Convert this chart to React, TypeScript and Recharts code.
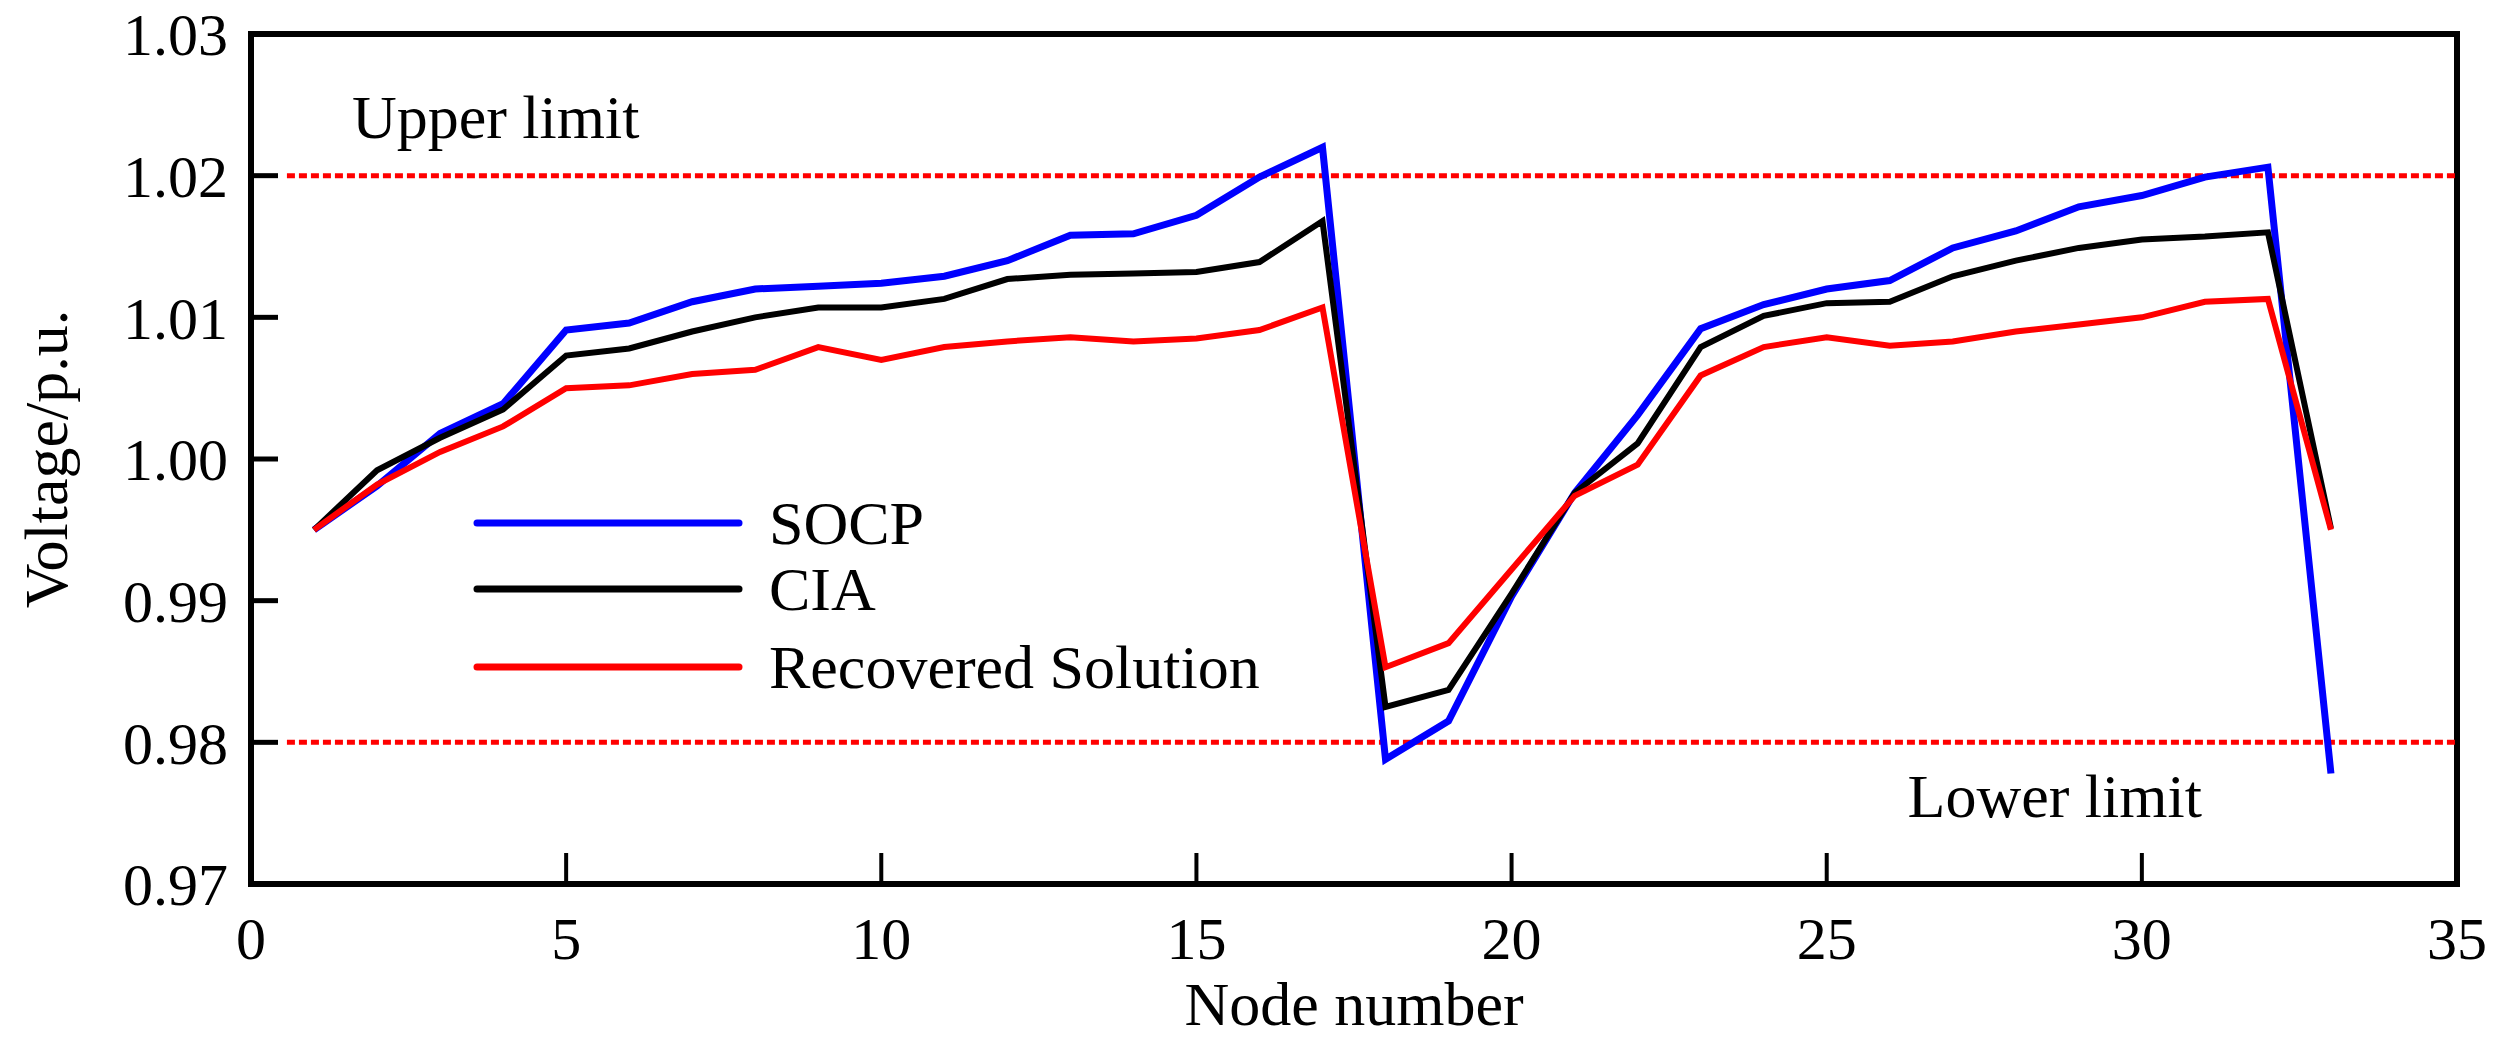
import React from "react";
import {
  Legend,
  Line,
  LineChart,
  ReferenceArea,
  ReferenceLine,
  XAxis,
  YAxis,
} from "recharts";

/* ─────────────  Data  ───────────── */

const NODES = [
  1, 2, 3, 4, 5, 6, 7, 8, 9, 10, 11, 12, 13, 14, 15, 16, 17,
  18, 19, 20, 21, 22, 23, 24, 25, 26, 27, 28, 29, 30, 31, 32, 33,
];

const SOCP = [
  0.995, 0.9981, 1.0018, 1.0039, 1.0091, 1.0096, 1.0111, 1.012, 1.0122, 1.0124, 1.0129,
  1.014, 1.0158, 1.0159, 1.0172, 1.0199, 1.022, 0.9788, 0.9815, 0.9903, 0.9976, 1.0031,
  1.0092, 1.0109, 1.012, 1.0126, 1.0149, 1.0161, 1.0178, 1.0186, 1.0199, 1.0206, 0.9778,
];

const CIA = [
  0.995, 0.9992, 1.0015, 1.0035, 1.0073, 1.0078, 1.009, 1.01, 1.0107, 1.0107, 1.0113,
  1.0127, 1.013, 1.0131, 1.0132, 1.0139, 1.0168, 0.9825, 0.9837, 0.9905, 0.9976, 1.0011,
  1.0079, 1.0101, 1.011, 1.0111, 1.0129, 1.014, 1.0149, 1.0155, 1.0157, 1.016, 0.9951,
];

const RECOVERED = [
  0.995, 0.9982, 1.0005, 1.0023, 1.005, 1.0052, 1.006, 1.0063, 1.0079, 1.007, 1.0079,
  1.0083, 1.0086, 1.0083, 1.0085, 1.0091, 1.0107, 0.9853, 0.987, 0.9922, 0.9974, 0.9996,
  1.0059, 1.0079, 1.0086, 1.008, 1.0083, 1.009, 1.0095, 1.01, 1.0111, 1.0113, 0.995,
];

const X_TICKS = [0, 5, 10, 15, 20, 25, 30, 35];
const Y_TICKS = [0.97, 0.98, 0.99, 1.0, 1.01, 1.02, 1.03];

const UPPER_LIMIT = 1.02;
const LOWER_LIMIT = 0.98;
const LIMIT_START = 0.57;

const SERIES = [
  { key: "socp", label: "SOCP", color: "#0000ff", width: 7 },
  { key: "cia", label: "CIA", color: "#000000", width: 6 },
  { key: "rec", label: "Recovered Solution", color: "#ff0000", width: 6 },
];

const data = NODES.map((n, i) => ({
  node: n,
  socp: SOCP[i],
  cia: CIA[i],
  rec: RECOVERED[i],
}));

/* ─────────────  Styling  ───────────── */

const FONT = "'Liberation Serif', 'Times New Roman', serif";
const TICK = { fill: "#000", fontSize: 60, fontFamily: FONT };

// vertical centre of each legend row, relative to the legend box
const LEGEND_ROWS = [36, 102, 180];

function LegendBox() {
  return (
    <div
      style={{
        position: "relative",
        width: 760,
        height: 216,
        fontFamily: FONT,
        fontSize: 62,
        color: "#000",
      }}
    >
      {SERIES.map((s, i) => (
        <div
          key={s.key}
          style={{
            position: "absolute",
            left: 0,
            top: LEGEND_ROWS[i] - 36,
            display: "flex",
            alignItems: "center",
            height: 72,
          }}
        >
          <svg width={270} height={12} style={{ display: "block" }}>
            <line
              x1={4}
              y1={6}
              x2={266}
              y2={6}
              stroke={s.color}
              strokeWidth={7}
              strokeLinecap="round"
            />
          </svg>
          <span style={{ marginLeft: 26, lineHeight: 1, whiteSpace: "nowrap" }}>{s.label}</span>
        </div>
      ))}
    </div>
  );
}

function limitLabel(text: string, dx: number, dy: number, anchor: "start" | "end") {
  return (props: any) => {
    const vb = props.viewBox || {};
    const x = anchor === "start" ? vb.x + dx : vb.x + vb.width - dx;
    return (
      <text
        x={x}
        y={vb.y + dy}
        textAnchor={anchor}
        fontFamily={FONT}
        fontSize={62}
        fill="#000"
      >
        {text}
      </text>
    );
  };
}

export default function App() {
  return (
    <div style={{ position: "absolute", left: 0, top: 0, background: "#fff" }}>
      <LineChart
        width={2496}
        height={1040}
        data={data}
        margin={{ top: 34, right: 39, bottom: 0, left: 0 }}
      >
        <XAxis
          dataKey="node"
          type="number"
          domain={[0, 35]}
          ticks={X_TICKS}
          height={156}
          axisLine={false}
          tickLine={{ stroke: "#000", strokeWidth: 4 }}
          tickSize={-31}
          tickMargin={63}
          tick={TICK}
          interval={0}
          label={{
            value: "Node number",
            position: "insideBottom",
            offset: 15,
            fill: "#000",
            fontSize: 62,
            fontFamily: FONT,
          }}
        />
        <YAxis
          type="number"
          domain={[0.97, 1.03]}
          ticks={Y_TICKS}
          width={251}
          axisLine={false}
          tickLine={{ stroke: "#000", strokeWidth: 5 }}
          tickSize={-27}
          tickMargin={50}
          tick={TICK}
          interval={0}
          tickFormatter={(v: number) => v.toFixed(2)}
          label={{
            value: "Voltage/p.u.",
            angle: -90,
            position: "insideLeft",
            offset: 45,
            fill: "#000",
            fontSize: 62,
            fontFamily: FONT,
            style: { textAnchor: "middle" },
          }}
        />
        <ReferenceLine
          segment={[
            { x: LIMIT_START, y: UPPER_LIMIT },
            { x: 35, y: UPPER_LIMIT },
          ]}
          stroke="#ff0000"
          strokeWidth={5}
          strokeDasharray="8 4"
          label={{ content: limitLabel("Upper limit", 65, -38, "start") }}
        />
        <ReferenceLine
          segment={[
            { x: LIMIT_START, y: LOWER_LIMIT },
            { x: 35, y: LOWER_LIMIT },
          ]}
          stroke="#ff0000"
          strokeWidth={5}
          strokeDasharray="8 4"
          label={{ content: limitLabel("Lower limit", 255, 75, "end") }}
        />
        {SERIES.map((s) => (
          <Line
            key={s.key}
            type="linear"
            dataKey={s.key}
            name={s.label}
            stroke={s.color}
            strokeWidth={s.width}
            dot={false}
            activeDot={false}
            isAnimationActive={false}
          />
        ))}
        <ReferenceArea
          x1={0}
          x2={35}
          y1={0.97}
          y2={1.03}
          fill="none"
          stroke="#000"
          strokeWidth={6}
          ifOverflow="visible"
        />
        <Legend
          layout="vertical"
          align="center"
          verticalAlign="middle"
          content={() => <LegendBox />}
          wrapperStyle={{ left: 473, top: 487, width: 760 }}
        />
      </LineChart>
    </div>
  );
}
